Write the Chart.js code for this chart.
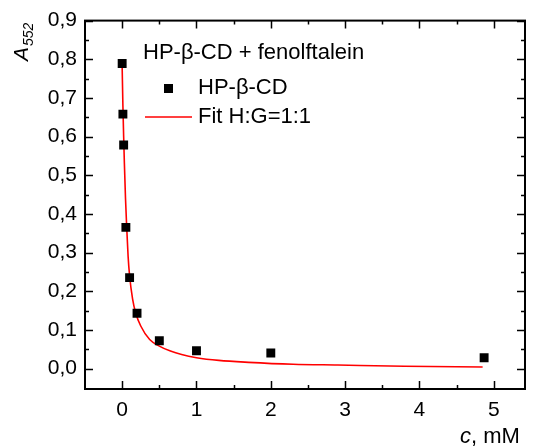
<!DOCTYPE html>
<html>
<head>
<meta charset="utf-8">
<script src="https://cdn.jsdelivr.net/npm/chart.js@4/dist/chart.umd.min.js"></script>
<style>
  html, body { margin: 0; padding: 0; background: #fff; }
  #wrap { width: 533px; height: 448px; }
</style>
</head>
<body>
<div id="wrap"><canvas id="c"></canvas></div>
<script>
// measured points (c in mM, absorbance at 552 nm)
const concValues = [0, 0.01, 0.02, 0.05, 0.1, 0.2, 0.5, 1, 2, 4.87];
const absValues = [0.789, 0.658, 0.578, 0.365, 0.235, 0.143, 0.072, 0.046, 0.040, 0.028];

// fit curve
const fitConc = [0, 0.01, 0.02, 0.03, 0.045, 0.06, 0.08, 0.1, 0.14, 0.18, 0.25, 0.37, 0.5, 0.65, 0.8, 1.0, 1.3, 1.7, 2.3, 2.9, 3.8, 4.85];
const fitAbs = [0.78, 0.68, 0.6, 0.53, 0.44, 0.37, 0.29, 0.24, 0.18, 0.145, 0.11, 0.075, 0.058, 0.045, 0.036, 0.028, 0.021, 0.016, 0.011, 0.009, 0.006, 0.004];

const xTicks = [0, 1, 2, 3, 4, 5];
const xMinor = [0.5, 1.5, 2.5, 3.5, 4.5];
const yTicks = [0, 0.1, 0.2, 0.3, 0.4, 0.5, 0.6, 0.7, 0.8, 0.9];
const yMinor = [0.05, 0.15, 0.25, 0.35, 0.45, 0.55, 0.65, 0.75, 0.85];

const legendTitle = 'HP-\u03B2-CD + fenolftalein';
const FONT = 'Arial, "Liberation Sans", sans-serif';

const framePlugin = {
  id: 'frame',
  afterDraw(chart) {
    const ctx = chart.ctx;
    const a = chart.chartArea;
    const xs = chart.scales.x, ys = chart.scales.y;
    ctx.save();
    ctx.strokeStyle = '#000';
    ctx.lineWidth = 1.5;
    // ticks, pointing inwards on all four sides
    const tick = (vals, len) => {
      vals.forEach(v => {
        const px = Math.round(xs.getPixelForValue(v)) + 0.5;
        ctx.beginPath();
        ctx.moveTo(px, a.bottom); ctx.lineTo(px, a.bottom - len);
        ctx.moveTo(px, a.top); ctx.lineTo(px, a.top + len);
        ctx.stroke();
      });
    };
    const ytick = (vals, len) => {
      vals.forEach(v => {
        const py = Math.round(ys.getPixelForValue(v)) + 0.5;
        ctx.beginPath();
        ctx.moveTo(a.left, py); ctx.lineTo(a.left + len, py);
        ctx.moveTo(a.right, py); ctx.lineTo(a.right - len, py);
        ctx.stroke();
      });
    };
    tick(xTicks, 8); tick(xMinor, 4);
    ytick(yTicks, 8); ytick(yMinor, 4);
    ctx.lineWidth = 2;
    ctx.strokeRect(a.left, a.top, a.right - a.left, a.bottom - a.top);

    // axis titles
    ctx.fillStyle = '#000';
    ctx.textBaseline = 'alphabetic';
    ctx.textAlign = 'left';
    ctx.font = 'italic 22px ' + FONT;
    ctx.fillText('c', 460, 443);
    const cw = ctx.measureText('c').width;
    ctx.font = '22px ' + FONT;
    ctx.fillText(', mM', 460 + cw, 443);

    ctx.translate(28, 61);
    ctx.rotate(-Math.PI / 2);
    ctx.font = 'italic 21px ' + FONT;
    ctx.fillText('A', 0, 0);
    const aw = ctx.measureText('A').width;
    ctx.font = 'italic 14px ' + FONT;
    ctx.fillText('552', aw + 1, 5);
    ctx.restore();

    // legend
    const ds = chart.data.datasets;
    ctx.save();
    ctx.fillStyle = '#000';
    ctx.textBaseline = 'middle';
    ctx.font = '22px ' + FONT;
    ctx.fillText(legendTitle, 143, 53);
    ctx.fillRect(164, 84, 9, 9);
    ctx.fillText(ds[0].label, 198, 88);
    ctx.strokeStyle = ds[1].borderColor;
    ctx.lineWidth = 1.5;
    ctx.beginPath();
    ctx.moveTo(145, 117); ctx.lineTo(192, 117);
    ctx.stroke();
    ctx.fillText(ds[1].label, 198, 117);
    ctx.restore();
  }
};

const fmt = v => v.toFixed(1).replace('.', ',');

new Chart(document.getElementById('c'), {
  type: 'scatter',
  data: {
    datasets: [{
      label: 'HP-\u03B2-CD',
      data: concValues.map((x, i) => ({ x: x, y: absValues[i] })),
      pointStyle: 'rect',
      pointRadius: 6.3,
      backgroundColor: '#000',
      borderWidth: 0,
      showLine: false,
      order: 0
    }, {
      label: 'Fit H:G=1:1',
      data: fitConc.map((x, i) => ({ x: x, y: fitAbs[i] })),
      showLine: true,
      borderColor: '#ff0000',
      borderWidth: 1.6,
      pointRadius: 0,
      cubicInterpolationMode: 'monotone',
      order: 1
    }]
  },
  options: {
    responsive: true,
    maintainAspectRatio: false,
    animation: false,
    layout: { padding: { top: 17, right: 8, left: 0, bottom: 0 } },
    plugins: { legend: { display: false }, tooltip: { enabled: false } },
    scales: {
      x: {
        type: 'linear',
        min: -0.5,
        max: 5.42,
        afterBuildTicks: s => { s.ticks = xTicks.map(v => ({ value: v })); },
        afterFit: s => { s.height = 59; },
        grid: { display: false, drawTicks: false },
        border: { display: false },
        ticks: { color: '#000', padding: 9, font: { family: FONT, size: 21 }, callback: v => String(v) }
      },
      y: {
        type: 'linear',
        min: -0.053,
        max: 0.9,
        afterBuildTicks: s => { s.ticks = yTicks.map(v => ({ value: v })); },
        afterFit: s => { s.width = 85; },
        grid: { display: false, drawTicks: false },
        border: { display: false },
        ticks: { color: '#000', padding: 8, font: { family: FONT, size: 21 }, callback: v => fmt(v) }
      }
    }
  },
  plugins: [framePlugin]
});
</script>
</body>
</html>
